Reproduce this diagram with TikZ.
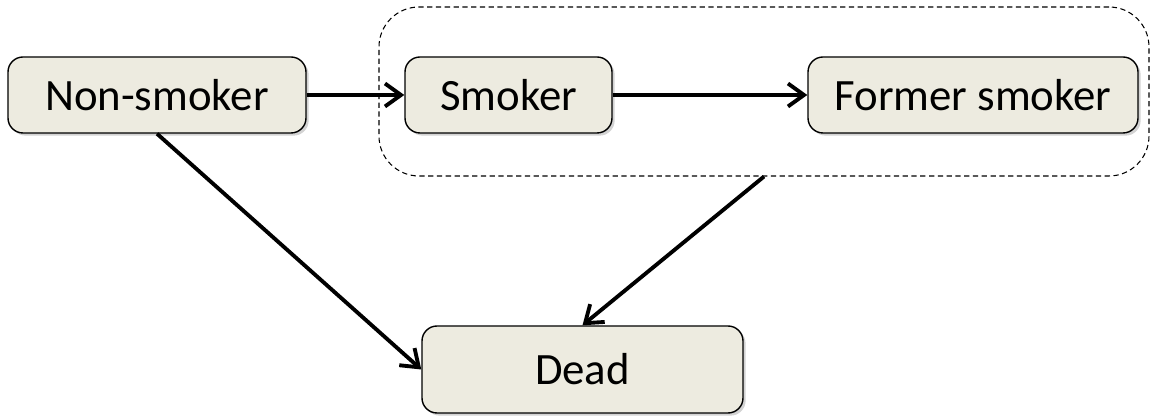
\documentclass[tikz,border=0pt]{standalone}
\usepackage{fontspec}
\setmainfont{Carlito}
\usetikzlibrary{arrows.meta, shadows}
\tikzset{>={Straight Barb[length=3.2mm, width=4.6mm]}}
\tikzset{
    state/.style = {draw, line width = 0.8pt, rounded corners = 0.3cm, fill = boxfill,
        minimum height = 1.52cm, font = \fontsize{25.5}{30}\selectfont,
        drop shadow = {opacity = 0.35, shadow xshift = 1.5pt, shadow yshift = -1.5pt}},
    group/.style = {draw, dash pattern = on 3pt off 2pt, line width = 0.6pt, rounded corners = 0.8cm},
    trans/.style = {->, line width = 2.2pt}
}
\definecolor{boxfill}{RGB}{237,235,224}

\begin{document}
\begin{tikzpicture}
    \useasboundingbox (0,0) rectangle (23,8.32);
    \node[group, minimum width = 15.4cm, minimum height = 3.38cm] (smoking) at (15.28,6.49) {};
    \node[state, minimum width = 5.96cm] (nonsmoker) at (3.14,6.42) {Non-smoker};
    \node[state, minimum width = 4.14cm] (smoker) at (10.17,6.42) {Smoker};
    \node[state, minimum width = 6.6cm] (former) at (19.46,6.42) {Former smoker};
    \node[state, minimum width = 6.42cm, minimum height = 1.74cm] (dead) at (11.65,0.93) {Dead};
    \draw[trans] (nonsmoker) -- (smoker);
    \draw[trans] (smoker) -- (former);
    \draw[trans] (nonsmoker.south) -- (dead.west);
    \draw[trans] (smoking.south) -- (dead.north);
\end{tikzpicture}
\end{document}
